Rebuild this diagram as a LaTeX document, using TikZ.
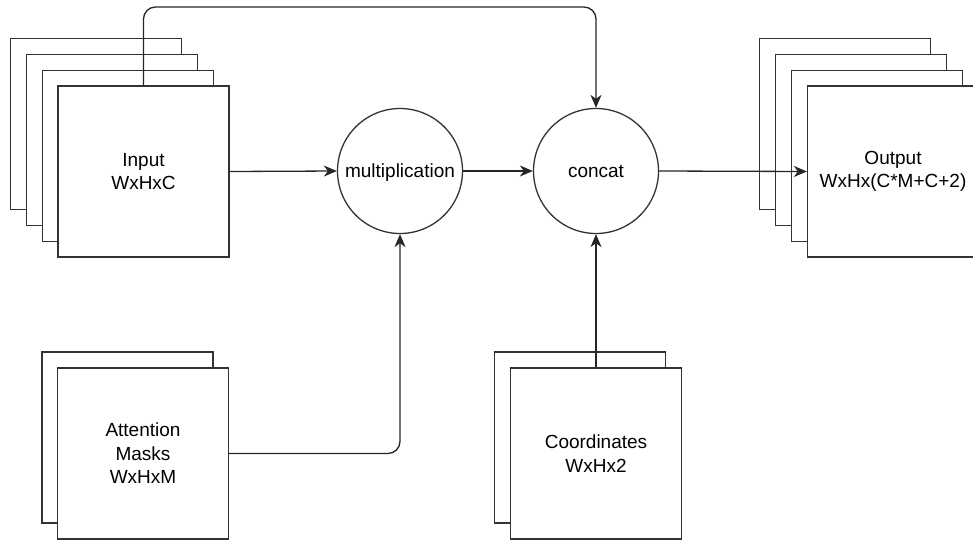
\documentclass[tikz,border=0pt]{standalone}
\usepackage{fontspec}
\setmainfont{Liberation Sans}
\usetikzlibrary{arrows.meta}

\tikzset{
	sheet/.style={draw=black!80, line width=1.3pt, fill=white, minimum width=171pt, minimum height=171pt, align=center, inner sep=0pt},
	op/.style={draw=black!80, line width=1.3pt, circle, fill=white, minimum size=125pt, inner sep=0pt, text depth=0pt},
	flow/.style={line width=1.3pt, black!85, -{Stealth[length=13pt, width=11pt, inset=4pt]}}
}

\begin{document}
\begin{tikzpicture}[x=1pt, y=-1pt, font=\fontsize{19}{23.5}\selectfont]
		\useasboundingbox (0,0) rectangle (973,541);

		% input stack
		\node[sheet] (in3) at (96,124) {};
		\node[sheet] (in2) at (112,140) {};
		\node[sheet] (in1) at (128,156) {};
		\node[sheet] (in) at (143.5,171.5) {Input\\WxHxC};

		% output stack
		\node[sheet] (out3) at (845,124) {};
		\node[sheet] (out2) at (861,140) {};
		\node[sheet] (out1) at (877,156) {};
		\node[sheet] (out) at (893,171.5) {Output\\WxHx(C*M+C+2)};

		% masks and coordinates
		\node[sheet] (att1) at (127.5,437.5) {};
		\node[sheet] (att) at (143,453.5) {Attention\\Masks\\WxHxM};
		\node[sheet] (coord1) at (580,437.5) {};
		\node[sheet] (coord) at (596,453.5) {Coordinates\\WxHx2};

		% operations
		\node[op] (mul) at (400,171) {multiplication};
		\node[op] (cat) at (596,171) {concat};

		\coordinate (skip) at (596,7);

		\draw[flow] (in.east) -- (mul.west);
		\draw[flow] (mul.east) -- (cat.west);
		\draw[flow] (cat.east) -- (out.west);
		\draw[flow, rounded corners=12pt] (att.east) -| (mul.south);
		\draw[flow] (coord.north) -- (cat.south);
		\draw[flow, rounded corners=12pt] (in.north) |- (skip) -- (cat.north);
	\end{tikzpicture}
\end{document}
